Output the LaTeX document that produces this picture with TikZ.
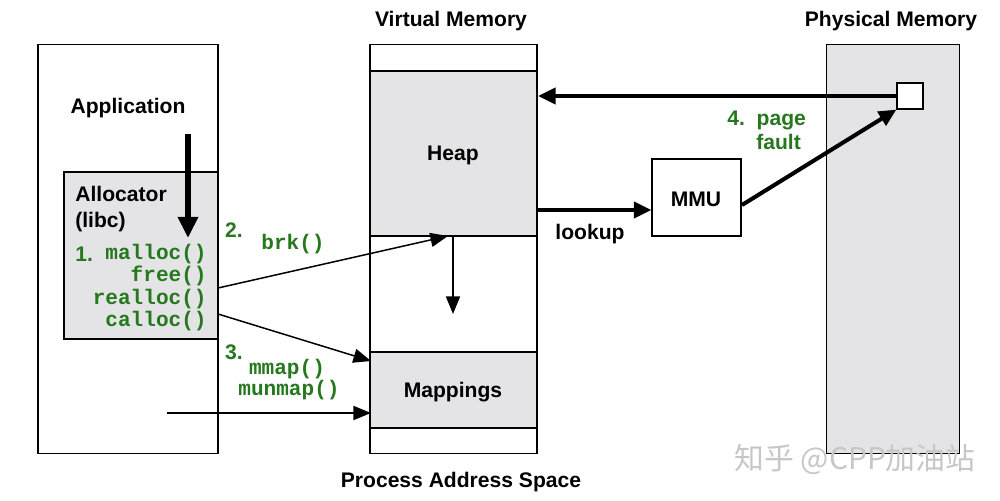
\documentclass[tikz,border=0pt]{standalone}
\usepackage{fontspec}
\setmainfont{Liberation Sans}
\setmonofont{Liberation Mono}
\newfontfamily\cjk{Noto Sans CJK SC}
\usetikzlibrary{arrows.meta}
\definecolor{boxgray}{RGB}{228,228,231}
\definecolor{codegreen}{RGB}{38,120,30}
\begin{document}
\begin{tikzpicture}[x=0.02cm,y=-0.02cm,
  outline/.style={draw=black,line width=0.6pt,inner sep=0pt},
  lbl/.style={font=\fontsize{12}{14}\selectfont\bfseries,inner sep=0pt},
  code/.style={font=\fontsize{12}{14}\selectfont\ttfamily\bfseries,text=codegreen,inner sep=0pt},
  glbl/.style={font=\fontsize{12}{14}\selectfont\bfseries,text=codegreen,inner sep=0pt},
  thin arrow/.style={line width=0.85pt,-{Triangle[length=10pt,width=8pt]}},
  thick arrow/.style={line width=2.3pt,-{Triangle[length=10pt,width=9pt]}},
  heavy arrow/.style={line width=3pt,-{Triangle[length=12pt,width=11pt]}}]
\useasboundingbox (0,0) rectangle (1000,500);
% Application
\node[outline,minimum width=3.6cm,minimum height=8.2cm] (app) at (128,249) {};
\node[lbl] (applbl) at (128,108) {Application};
\node[outline,fill=boxgray,minimum width=3.08cm,minimum height=3.34cm] (alloc) at (141,255.5) {};
\node[lbl,anchor=west,align=left] (alloclbl) at (75,209) {Allocator\\[1pt](libc)};
\node[glbl,anchor=west] (n1) at (75,254) {1.};
\node[code,anchor=east] (malloc) at (207,254) {malloc()};
\node[code,anchor=east] (free) at (207,276) {free()};
\node[code,anchor=east] (realloc) at (207,299) {realloc()};
\node[code,anchor=east] (calloc) at (207,321) {calloc()};
% Virtual memory
\node[outline,minimum width=3.34cm,minimum height=8.2cm] (vm) at (453.5,249) {};
\node[outline,fill=boxgray,minimum width=3.34cm,minimum height=3.3cm] (heap) at (453.5,153.5) {};
\node[lbl] at (453,155) {Heap};
\node[outline,fill=boxgray,minimum width=3.34cm,minimum height=1.52cm] (mapn) at (453.5,390) {};
\node[lbl] at (453,392) {Mappings};
\node[lbl] (vmt) at (451,21) {Virtual Memory};
\node[lbl] (pas) at (461,482) {Process Address Space};
% Physical memory
\node[outline,fill=boxgray,minimum width=2.66cm,minimum height=8.2cm] (pm) at (893,249) {};
\node[lbl] (pmt) at (891,21) {Physical Memory};
\node[outline,fill=white,minimum width=0.52cm,minimum height=0.52cm] (sq) at (910,96) {};
% MMU
\node[outline,fill=white,minimum width=1.78cm,minimum height=1.54cm] (mmu) at (696.5,197.5) {};
\node[lbl] at (696,199) {MMU};
% labels
\node[glbl] (n2) at (234,230) {2.};
\node[code] (brk) at (293,244) {brk()};
\node[glbl] (n3) at (234,352) {3.};
\node[code] (mmap) at (287,369) {mmap()};
\node[code] (munmap) at (289,390) {munmap()};
\node[lbl] (lookup) at (590,234) {lookup};
\node[glbl,anchor=west] (n4) at (727,120) {4.~~page};
\node[glbl,anchor=west] (fault) at (756,142) {fault};
% arrows
\coordinate (a1) at (188,134);
\coordinate (a2) at (188,238);
\draw[heavy arrow] (a1) -- (a2);
\coordinate (b1) at (218,288);
\coordinate (b2) at (448,236);
\draw[thin arrow] (b1) -- (b2);
\coordinate (h2) at (453,314);
\draw[thin arrow] (heap.south -| h2) -- (h2);
\coordinate (m1) at (218,314);
\coordinate (m2) at (371,361);
\draw[thin arrow] (m1) -- (m2);
\coordinate (c1) at (167,413);
\coordinate (c2) at (371,413);
\draw[thin arrow] (c1) -- (c2);
\coordinate (p2) at (538,96);
\draw[thick arrow] (sq.west) -- (p2);
\coordinate (l1) at (538,210);
\draw[thick arrow] (l1) -- (mmu.west |- l1);
\coordinate (u1) at (742,205);
\draw[thick arrow] (u1) -- (sq.south west);
% watermark
\node[font=\cjk\fontsize{17}{20}\selectfont,text=black!22,inner sep=0pt] (wm) at (855,460) {知乎 @CPP加油站};
\end{tikzpicture}
\end{document}
